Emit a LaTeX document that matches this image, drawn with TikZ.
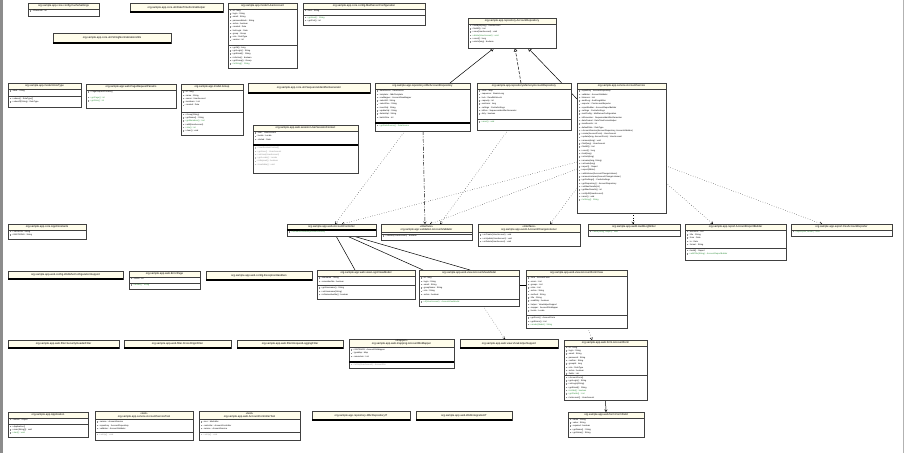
\documentclass[tikz,border=0pt]{standalone}
\usepackage{fontspec}
\setmainfont{Liberation Sans}
\usetikzlibrary{arrows.meta}
\definecolor{cream}{HTML}{FFFDEB}
\definecolor{okgreen}{HTML}{2F8F3A}
\definecolor{icon}{HTML}{8A8A8A}
\pgfdeclarelayer{bg}
\pgfsetlayers{bg,main}

% one member line: icon + text
\newcommand{\fa}[1]{\textcolor{icon}{\rule{1.4pt}{1.4pt}}\hspace{0.6pt}#1\\}
\newcommand{\fg}[1]{\textcolor{icon}{\rule{1.4pt}{1.4pt}}\hspace{0.6pt}\textcolor{okgreen}{#1}\\}
\newcommand{\fl}[1]{\textcolor{icon!60}{\rule{1.4pt}{1.4pt}}\hspace{0.6pt}\textcolor{black!45}{#1}\\}

% [title band] {name} {x1} {y1} {x2} {y2} {title}
\newcommand{\classbox}[7][6]{%
  \fill[boxshadow] (#3+1.2,#4+1.2) rectangle (#5+1.2,#6+1.2);
  \fill[white] (#3,#4) rectangle (#5,#6);
  \fill[cream] (#3,#4) rectangle (#5,#4+#1);
  \node[cls, minimum width={(#5-#3)*1pt}, minimum height={(#6-#4)*1pt}] (#2) at ({(#3+#5)/2},{(#4+#6)/2}) {};
  \draw[sepline] (#3,#4+#1) -- (#5,#4+#1);
  \node[clstitle] (#2-t) at ({(#3+#5)/2},#4+#1/2) {#7};
}

\begin{document}
\begin{tikzpicture}[x=1pt, y=-1pt,
    cls/.style={rectangle, draw=black!75, line width=0.45pt, inner sep=0pt, outer sep=0pt},
    boxshadow/.style={black!22},
    sepline/.style={draw=black!75, line width=0.4pt},
    heavy/.style={draw=black, line width=1.1pt},
    clstitle/.style={inner sep=0pt, align=center, font=\fontsize{2.7}{3}\selectfont},
    mem/.style={anchor=north west, inner sep=0pt, align=left, font=\fontsize{2.1}{3.3}\selectfont},
    inherit/.style={-{Triangle[open, length=3.5pt, width=3.5pt]}, line width=0.5pt},
    realize/.style={inherit, dash pattern=on 3pt off 1.5pt},
    depend/.style={-{Straight Barb[length=2pt, width=2.6pt]}, line width=0.4pt, dotted},
    dashdot/.style={-{Straight Barb[length=2pt, width=2.6pt]}, line width=0.45pt, dash pattern=on 4pt off 1.5pt on 0.8pt off 1.5pt},
    assoc/.style={line width=0.5pt},
    nav/.style={-{Straight Barb[length=2pt, width=2.6pt]}, line width=0.5pt}
  ]
  \useasboundingbox (0,0) rectangle (905,453);
  \fill[black!45] (0,0) rectangle (3,453);
  \draw[black!30] (903,0) -- (903,453);

  % top row
  \classbox{cacheCfg}{28}{3}{99}{16}{org.sample.app.core.config.CacheSettings}
  \node[mem] (cacheCfg-a) at (29.5,9.8) {\fa{- ttlSeconds : int}};
  \classbox[9]{dateFmt}{130}{3}{223}{12}{org.sample.app.core.util.DateTimeFormatHelper}
  \draw[heavy] (dateFmt.south west) -- (dateFmt.south east);
  \classbox{account}{228}{3}{297}{68}{org.sample.app.model.UserAccount}
  \node[mem] (account-a) at (229.5,9.5) {\fa{- id : long}\fa{- login : String}\fa{- email : String}\fa{- passwordHash : String}\fa{- active : boolean}\fa{- created : Date}\fa{- lastLogin : Date}\fa{- group : Group}\fa{- role : RoleType}\fa{- version : int}};
  \draw[sepline] (228,45) -- (297,45);
  \node[mem] (account-m) at (229.5,46.5) {\fa{+ getId() : long}\fa{+ getLogin() : String}\fa{+ getEmail() : String}\fa{+ isActive() : boolean}\fa{+ getGroup() : Group}\fg{+ toString() : String}};
  \classbox{mailCfg}{303}{3}{425}{25}{org.sample.app.core.config.MailServerConfiguration}
  \node[mem] (mailCfg-a) at (304.5,9.5) {\fa{- host : String}};
  \draw[sepline] (303,15) -- (425,15);
  \node[mem] (mailCfg-m) at (304.5,16.3) {\fg{+ getHost() : String}\fa{+ getPort() : int}};
  \classbox[10]{strUtil}{53}{33}{171}{43}{org.sample.app.core.util.StringNormalizationUtils}
  \draw[heavy] (strUtil.south west) -- (strUtil.south east);
  \classbox{repoIf}{468}{18}{556}{48}{org.sample.app.repository.AccountRepository}
  \node[mem] (repoIf-m) at (469.5,24.5) {\fa{+ findById(long) : UserAccount}\fa{+ findAll() : List}\fa{+ save(UserAccount) : void}\fg{+ delete(UserAccount) : void}\fa{+ count() : long}\fa{+ exists(long) : boolean}};

  % second row
  \classbox{roleEnum}{8}{83}{81}{107}{org.sample.app.model.RoleType}
  \node[mem] (roleEnum-a) at (9.5,90) {\fa{- label : String}};
  \draw[sepline] (8,96) -- (81,96);
  \node[mem] (roleEnum-m) at (9.5,97.5) {\fa{+ values() : RoleType[]}\fa{+ valueOf(String) : RoleType}};
  \classbox{pageReq}{86}{84}{176}{108}{org.sample.app.web.PageRequestParams}
  \node[mem] (pageReq-m) at (87.5,91) {\fa{+ PageRequestParams()}\\[-1pt]\fg{+ getPage() : int}\fg{+ getSize() : int}};
  \classbox{group}{181}{84}{243}{135}{org.sample.app.model.Group}
  \node[mem] (group-a) at (182.5,91) {\fa{- id : long}\fa{- name : String}\fa{- owner : UserAccount}\fa{- members : List}\fa{- created : Date}};
  \draw[sepline] (181,112) -- (243,112);
  \node[mem] (group-m) at (182.5,113.5) {\fa{+ Group(String)}\fa{+ getName() : String}\fg{+ getMembers() : List}\fa{+ add(UserAccount)}\fg{+ size() : int}\fa{+ clear() : void}};
  \classbox[10]{idGen}{248}{83}{370}{93}{org.sample.app.core.util.SequenceIdentifierGenerator}
  \draw[heavy] (idGen.south west) -- (idGen.south east);
  \classbox{jdbcRepo}{375}{83}{470}{131}{org.sample.app.repository.JdbcAccountRepository}
  \node[mem] (jdbcRepo-a) at (376.5,90) {\fa{- dataSource : DataSource}\fa{- template : JdbcTemplate}\fa{- rowMapper : AccountRowMapper}\fa{- selectAll : String}\fa{- selectOne : String}\fa{- insertSql : String}\fa{- updateSql : String}\fa{- deleteSql : String}\fa{- batchSize : int}};
  \draw[heavy] (375,123) -- (470,123);
  \node[mem] (jdbcRepo-m) at (376.5,124.5) {\fg{+ getDataSource() : DataSource}};
  \classbox{memRepo}{477}{83}{571}{130}{org.sample.app.repository.MemoryAccountRepository}
  \node[mem] (memRepo-a) at (478.5,90) {\fa{- store : Map}\fa{- sequence : AtomicLong}\fa{- lock : ReadWriteLock}\fa{- capacity : int}\fa{- evictions : long}\fa{- settings : CacheSettings}\fa{- idGen : SequenceIdentifierGenerator}\fa{- dirty : boolean}};
  \draw[sepline] (477,119) -- (571,119);
  \node[mem] (memRepo-m) at (478.5,121) {\fg{+ reset() : void}};
  \classbox{service}{577}{83}{666}{213}{org.sample.app.service.AccountService}
  \node[mem] (service-m) at (578.5,90) {\fa{- repository : AccountRepository}\fa{- validator : AccountValidator}\fa{- listeners : List}\fa{- auditLog : AuditLogWriter}\fa{- exporter : CsvAccountExporter}\fa{- reportBuilder : AccountReportBuilder}\fa{- settings : CacheSettings}\fa{- mailConfig : MailServerConfiguration}\fa{- idGenerator : SequenceIdentifierGenerator}\fa{- dateFormat : DateTimeFormatHelper}\fa{- maxResults : int}\fa{- defaultRole : RoleType}\fa{+ AccountService(AccountRepository, AccountValidator)}\fa{+ create(AccountForm) : UserAccount}\fa{+ update(long, AccountForm) : UserAccount}\fa{+ remove(long) : void}\fa{+ find(long) : UserAccount}\fa{+ findAll() : List}\fa{+ count() : long}\fa{+ lock(long)}\fa{+ unlock(long)}\fa{+ rename(long, String)}\fa{+ activate(long)}\fa{+ report() : Report}\fa{+ export(Writer)}\fa{+ addListener(AccountChangeListener)}\fa{+ removeListener(AccountChangeListener)}\fa{+ getSettings() : CacheSettings}\fa{+ getRepository() : AccountRepository}\fa{+ setMaxResults(int)}\fa{+ getMaxResults() : int}\fa{+ notifyAll(UserAccount)}\fa{+ reset() : void}\fg{+ toString() : String}};
  \classbox{session}{253}{125}{358}{173}{org.sample.app.web.session.UserSessionContext}
  \node[mem] (session-a) at (254.5,132) {\fa{- user : UserAccount}\fa{- locale : Locale}\fa{- started : Date}};
  \draw[heavy] (253,145) -- (358,145);
  \node[mem] (session-m) at (254.5,147) {\fl{+ UserSessionContext()}\fl{+ getUser() : UserAccount}\fl{+ setUser(UserAccount)}\fl{+ getLocale() : Locale}\fl{+ isExpired() : boolean}\fl{+ invalidate() : void}};

  % third row
  \classbox{constants}{8}{224}{86}{239}{org.sample.app.core.AppConstants}
  \node[mem] (constants-a) at (9.5,230.5) {\fa{+ VERSION : String}\fa{+ ENCODING : String}};
  \classbox{controller}{287}{224}{376}{236}{org.sample.app.web.AccountController}
  \draw[heavy] (287,230) -- (376,230);
  \node[mem] (controller-m) at (288.5,231) {\fg{+ AccountController(AccountService)}};
  \classbox[8]{validator}{381}{224}{472}{240}{«interface»\\org.sample.app.validation.AccountValidator}
  \draw[sepline] (381,234) -- (472,234);
  \node[mem] (validator-m) at (382.5,235) {\fa{+ validate(UserAccount) : boolean}};
  \classbox[8]{listener}{478}{224}{580}{246}{«interface»\\org.sample.app.event.AccountChangeListener}
  \node[mem] (listener-m) at (479.5,234) {\fa{+ onCreate(UserAccount) : void}\fa{+ onUpdate(UserAccount) : void}\fa{+ onDelete(UserAccount) : void}};
  \classbox{auditLog}{588}{224}{680}{236}{org.sample.app.audit.AuditLogWriter}
  \node[mem] (auditLog-m) at (589.5,230.5) {\fg{+ write(String, Object) : void}};
  \classbox{report}{685}{224}{786}{260}{org.sample.app.report.AccountReportBuilder}
  \node[mem] (report-a) at (686.5,230.5) {\fa{- accounts : List}\fa{- title : String}\fa{- from : Date}\fa{- to : Date}\fa{- format : String}};
  \draw[sepline] (685,248) -- (786,248);
  \node[mem] (report-m) at (686.5,249.5) {\fa{+ build() : Report}\fg{+ withTitle(String) : AccountReportBuilder}};
  \classbox{exporter}{791}{224}{892}{236}{org.sample.app.export.CsvAccountExporter}
  \node[mem] (exporter-m) at (792.5,230.5) {\fg{+ export(List, Writer) : void}};

  % fourth row
  \classbox[8]{webCfg}{8}{271}{123}{279}{org.sample.app.web.config.WebMvcConfigurationSupport}
  \draw[heavy] (webCfg.south west) -- (webCfg.south east);
  \classbox{errPage}{129}{271}{200}{289}{org.sample.app.web.ErrorPage}
  \node[mem] (errPage-a) at (130.5,277.5) {\fa{- status : int}};
  \draw[sepline] (129,283) -- (200,283);
  \node[mem] (errPage-m) at (130.5,284) {\fg{+ render() : String}};
  \classbox[9]{handlers}{206}{271}{312}{280}{org.sample.app.web.config.ExceptionHandlers}
  \draw[heavy] (handlers.south west) -- (handlers.south east);
  \classbox{loginView}{317}{270}{415}{299}{org.sample.app.web.view.LoginViewModel}
  \node[mem] (loginView-a) at (318.5,277) {\fa{- username : String}\fa{- rememberMe : boolean}};
  \draw[sepline] (317,285.5) -- (415,285.5);
  \node[mem] (loginView-m) at (318.5,287) {\fa{+ getUsername() : String}\fa{+ setUsername(String)}\fa{+ isRememberMe() : boolean}};
  \classbox{accountView}{419}{270}{519}{306}{org.sample.app.web.view.AccountViewModel}
  \node[mem] (accountView-a) at (420.5,277) {\fa{- id : long}\fa{- login : String}\fa{- email : String}\fa{- groupName : String}\fa{- role : String}\fa{- active : boolean}};
  \draw[sepline] (419,299.5) -- (519,299.5);
  \node[mem] (accountView-m) at (420.5,301) {\fg{+ of(UserAccount) : AccountViewModel}};
  \classbox{formView}{526}{270}{627}{328}{org.sample.app.web.view.AccountFormView}
  \node[mem] (formView-a) at (527.5,277) {\fa{- form : AccountForm}\fa{- errors : List}\fa{- groups : List}\fa{- roles : List}\fa{- action : String}\fa{- method : String}\fa{- title : String}\fa{- readOnly : boolean}\fa{- helper : ViewHelperSupport}\fa{- mapper : AccountDtoMapper}\fa{- locale : Locale}};
  \draw[sepline] (526,315.5) -- (627,315.5);
  \node[mem] (formView-m) at (527.5,317) {\fa{+ getForm() : AccountForm}\fa{+ getErrors() : List}\fg{+ render(Model) : String}};

  % fifth row
  \classbox[8]{secFilter}{8}{340}{119}{348}{org.sample.app.web.filter.SecurityHeaderFilter}
  \draw[heavy] (secFilter.south west) -- (secFilter.south east);
  \classbox[8]{corsFilter}{124}{340}{231}{348}{org.sample.app.web.filter.CrossOriginFilter}
  \draw[heavy] (corsFilter.south west) -- (corsFilter.south east);
  \classbox[8]{logFilter}{237}{340}{343}{348}{org.sample.app.web.filter.RequestLoggingFilter}
  \draw[heavy] (logFilter.south west) -- (logFilter.south east);
  \classbox[8]{mapper}{349}{339}{454}{368}{«mapper»\\org.sample.app.web.mapping.AccountDtoMapper}
  \node[mem] (mapper-a) at (350.5,349) {\fa{+ INSTANCE : AccountDtoMapper}\fa{- typeMap : Map}\fa{- converters : List}};
  \draw[heavy] (349,362) -- (454,362);
  \node[mem] (mapper-m) at (350.5,363.5) {\fl{+ toDto(UserAccount) : AccountDto}};
  \classbox[9]{viewHelper}{460}{339}{558}{348}{org.sample.app.web.view.ViewHelperSupport}
  \draw[heavy] (viewHelper.south west) -- (viewHelper.south east);
  \classbox{formModel}{564}{340}{647}{400}{org.sample.app.web.form.AccountForm}
  \node[mem] (formModel-a) at (565.5,346.5) {\fa{- id : Long}\fa{- login : String}\fa{- email : String}\fa{- password : String}\fa{- confirm : String}\fa{- groupId : long}\fa{- role : RoleType}\fa{- active : boolean}\fa{- fields : List}};
  \draw[sepline] (564,375.5) -- (647,375.5);
  \node[mem] (formModel-m) at (565.5,376.5) {\fa{+ AccountForm()}\fa{+ getLogin() : String}\fa{+ setLogin(String)}\fa{+ getEmail() : String}\fg{+ isValid() : boolean}\fg{+ getFields() : List}\fa{+ toAccount() : UserAccount}};
  \classbox{fieldModel}{568}{412}{644}{437}{org.sample.app.web.form.FormField}
  \node[mem] (fieldModel-m) at (569.5,418.5) {\fa{- name : String}\fa{- value : String}\fa{- required : boolean}\fa{+ getName() : String}\fa{+ getValue() : String}};

  % bottom row
  \classbox{appMain}{8}{412}{88}{437}{org.sample.app.Application}
  \node[mem] (appMain-a) at (9.5,418.5) {\fa{- context : Object}};
  \draw[sepline] (8,424) -- (88,424);
  \node[mem] (appMain-m) at (9.5,425.5) {\fa{+ Application()}\fa{+ main(String[]) : void}\fg{+ start() : void}};
  \classbox[8]{testA}{95}{411}{193}{440}{«test»\\org.sample.app.service.AccountServiceTest}
  \node[mem] (testA-a) at (96.5,421) {\fa{- service : AccountService}\fa{- repository : AccountRepository}\fa{- validator : AccountValidator}};
  \draw[sepline] (95,432) -- (193,432);
  \node[mem] (testA-m) at (96.5,433.5) {\fl{+ setUp() : void}};
  \classbox[8]{testB}{199}{411}{300}{440}{«test»\\org.sample.app.web.AccountControllerTest}
  \node[mem] (testB-a) at (200.5,421) {\fa{- mvc : MockMvc}\fa{- controller : AccountController}\fa{- service : AccountService}};
  \draw[sepline] (199,432) -- (300,432);
  \node[mem] (testB-m) at (200.5,433.5) {\fl{+ setUp() : void}};
  \classbox[9]{dbTest}{312}{411}{410}{420}{org.sample.app.repository.JdbcRepositoryIT}
  \draw[heavy] (dbTest.south west) -- (dbTest.south east);
  \classbox[9]{webTest}{416}{411}{512}{420}{org.sample.app.web.WebIntegrationIT}
  \draw[heavy] (webTest.south west) -- (webTest.south east);

  % connectors
  \begin{pgfonlayer}{bg}
    \draw[inherit] ([xshift=75pt]jdbcRepo.north west) -- ([xshift=26pt]repoIf.south west);
    \draw[realize] ([xshift=44pt]memRepo.north west) -- ([xshift=47pt]repoIf.south west);
    \draw[inherit] ([yshift=-16pt]service.north west) -- ([xshift=60pt]repoIf.south west);
    \draw[depend] ([xshift=30pt]jdbcRepo.south west) -- ([xshift=48pt]controller.north west);
    \draw[dashdot] ([xshift=48pt]jdbcRepo.south west) -- ([xshift=44pt]validator.north west);
    \draw[depend] ([xshift=31pt]memRepo.south west) -- ([xshift=59pt]validator.north west);
    \draw[depend] ([yshift=-79pt]service.north west) -- ([xshift=55pt]controller.north west);
    \draw[depend] ([yshift=-86pt]service.north west) -- ([xshift=49pt]validator.north west);
    \draw[depend] ([yshift=-105pt]service.north west) -- ([xshift=72pt]listener.north west);
    \draw[depend] ([xshift=56pt]service.south west) -- ([xshift=45pt]auditLog.north west);
    \draw[depend] ([yshift=-100pt]service.north east) -- ([xshift=28pt]report.north west);
    \draw[depend] ([yshift=-83pt]service.north east) -- ([xshift=31pt]exporter.north west);
    \draw[assoc] ([xshift=49pt]controller.south west) -- ([xshift=38pt]loginView.north west);
    \draw[assoc] ([xshift=60pt]controller.south west) -- ([xshift=4pt]accountView.north west);
    \draw[assoc] ([xshift=66pt]controller.south west) -- ([xshift=51pt]accountView.north west);
    \draw[assoc] ([yshift=-15pt]accountView.north east) -- ([yshift=-15pt]formView.north west);
    \draw[depend] ([xshift=64pt]accountView.south west) -- ([xshift=45pt]viewHelper.north west);
    \draw[depend] ([xshift=62pt]formView.south west) -- ([xshift=28pt]formModel.north west);
    \draw[nav] (formModel.south) -- (fieldModel.north);
  \end{pgfonlayer}
\end{tikzpicture}
\end{document}
